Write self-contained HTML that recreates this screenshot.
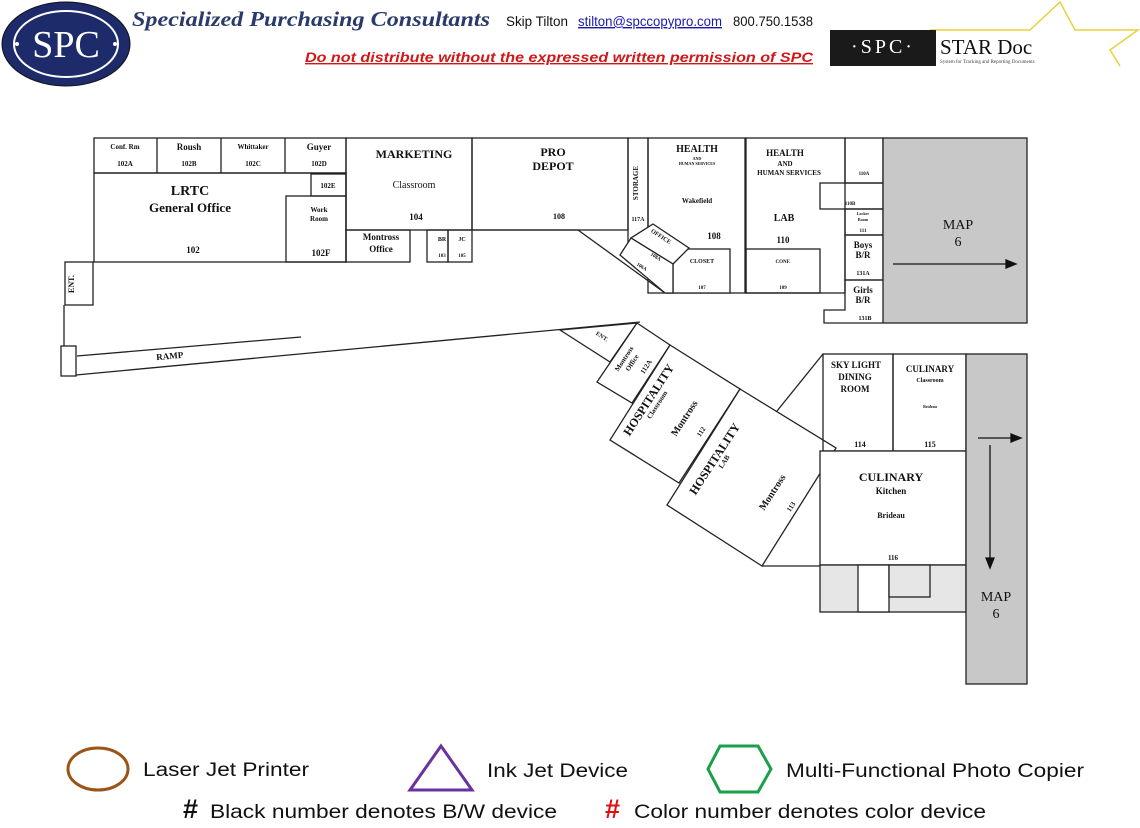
<!DOCTYPE html>
<html><head><meta charset="utf-8"><style>
html,body{margin:0;padding:0;background:#fff;}
svg{display:block;}
.s{font-family:"Liberation Serif",serif;font-weight:bold;fill:#111;}
.a{font-family:"Liberation Sans",sans-serif;fill:#111;}
</style></head><body>
<svg width="1140" height="828" viewBox="0 0 1140 828" xmlns="http://www.w3.org/2000/svg">
<!-- header -->
<ellipse cx="66" cy="44" rx="64" ry="42" fill="#1d2b6b" stroke="#111" stroke-width="1"/>
<ellipse cx="66" cy="44" rx="52" ry="33" fill="none" stroke="#fff" stroke-width="2"/>
<text x="66" y="57" text-anchor="middle" font-family="Liberation Serif,serif" font-size="38" fill="#fff">SPC</text>
<circle cx="17" cy="44" r="2" fill="#fff"/><circle cx="115" cy="44" r="2" fill="#fff"/>
<text x="132" y="26" font-family="Liberation Serif,serif" font-style="italic" font-weight="bold" font-size="21" fill="#2a3a6a" textLength="358" lengthAdjust="spacingAndGlyphs">Specialized Purchasing Consultants</text>
<text x="506" y="26" class="a" font-size="14" textLength="62" lengthAdjust="spacingAndGlyphs">Skip Tilton</text>
<text x="578" y="26" class="a" font-size="14" fill="#1a1aaa" style="fill:#1a1aaa" text-decoration="underline" textLength="144" lengthAdjust="spacingAndGlyphs">stilton@spccopypro.com</text>
<text x="733" y="26" class="a" font-size="14" textLength="80" lengthAdjust="spacingAndGlyphs">800.750.1538</text>
<text x="305" y="62" font-family="Liberation Sans,sans-serif" font-style="italic" font-weight="bold" font-size="14" fill="#d01818" text-decoration="underline" textLength="508" lengthAdjust="spacingAndGlyphs">Do not distribute without the expressed written permission of SPC</text>
<polyline points="930,30 1030,30 1060,2 1075,30 1138,30 1110,50 1120,66" fill="none" stroke="#e8d23a" stroke-width="1.5"/>
<rect x="830" y="30" width="106" height="36" fill="#1a1a1a"/>
<text x="883" y="53" text-anchor="middle" font-family="Liberation Serif,serif" font-size="20" fill="#fff" letter-spacing="3">·SPC·</text>
<text x="940" y="54" font-family="Liberation Serif,serif" font-size="21" fill="#111">STAR Doc</text>
<text x="940" y="63" font-family="Liberation Serif,serif" font-size="5" fill="#444">System for Tracking and Reporting Documents</text>

<g fill="none" stroke="#222" stroke-width="1.3">
<!-- top left block -->
<rect x="94" y="138" width="252" height="35"/>
<line x1="157" y1="138" x2="157" y2="173"/><line x1="221" y1="138" x2="221" y2="173"/><line x1="285" y1="138" x2="285" y2="173"/>
<rect x="94" y="173" width="252" height="89"/>
<rect x="311" y="174" width="35" height="22"/>
<rect x="286" y="196" width="60" height="66"/>
<rect x="346" y="138" width="126" height="92"/>
<rect x="472" y="138" width="156" height="92"/>
<rect x="346" y="230" width="64" height="32"/>
<rect x="427" y="230" width="21" height="32"/><rect x="448" y="230" width="24" height="32"/>
<rect x="65" y="262" width="28" height="43"/>
<line x1="64" y1="305" x2="64" y2="346"/>
<rect x="61" y="346" width="15" height="30"/>
<line x1="77" y1="356" x2="301" y2="337"/>
<line x1="76" y1="375" x2="640" y2="322"/>
<!-- pro depot diagonal -->
<line x1="472" y1="230" x2="578" y2="230"/><line x1="578" y1="230" x2="665" y2="293"/>
<line x1="665" y1="293" x2="673" y2="293"/>
<rect x="628" y="138" width="20" height="110"/>
<rect x="648" y="138" width="97" height="155"/>
<rect x="673" y="249" width="57" height="44" fill="#fff"/>
<polygon points="653,224 689,248 673,264 631,238" fill="#fff"/>
<polygon points="631,238 673,264 673,293 665,293 620,255" fill="#fff"/>
<rect x="746" y="138" width="99" height="155"/>
<rect x="746" y="249" width="74" height="44"/>
<rect x="845" y="138" width="38" height="45"/>
<rect x="820" y="183" width="63" height="26"/>
<rect x="845" y="209" width="38" height="26"/>
<rect x="845" y="235" width="38" height="45"/>
<polyline points="883,280 845,280 845,310 824,310 824,323 883,323"/>
<rect x="883" y="138" width="144" height="185" fill="#c8c8c8"/>
<!-- bottom right -->
<polygon points="560,330 637,323 610,362" fill="#fff"/>
<polygon points="637,323 670,345 632,403 597,382" fill="#fff"/>
<polygon points="670,345 740,389 679,483 610,440" fill="#fff"/>
<polygon points="740,389 836,448 762,566 667,505" fill="#fff"/>
<line x1="762" y1="566" x2="820" y2="566"/>
<line x1="777" y1="411" x2="823" y2="354"/>
<rect x="823" y="354" width="70" height="97"/>
<rect x="893" y="354" width="73" height="97"/>
<rect x="820" y="451" width="146" height="114" fill="#fff"/>
<rect x="820" y="565" width="146" height="47" fill="#e6e6e6"/>
<rect x="858" y="565" width="31" height="47" fill="#fff"/>
<rect x="889" y="565" width="41" height="32" fill="#e6e6e6"/>
<rect x="966" y="354" width="61" height="330" fill="#c8c8c8"/>
</g>
<!-- arrows -->
<g stroke="#111" stroke-width="1.3" fill="#111">
<line x1="893" y1="264" x2="1008" y2="264"/><polygon points="1016,264 1006,260 1006,268"/>
<line x1="978" y1="438" x2="1013" y2="438"/><polygon points="1021,438 1011,434 1011,442"/>
<line x1="990" y1="445" x2="990" y2="560"/><polygon points="990,568 986,558 994,558"/>
</g>
<!-- labels -->
<g class="s" text-anchor="middle">
<text x="125" y="149" font-size="7">Conf. Rm</text><text x="125" y="166" font-size="7">102A</text>
<text x="189" y="150" font-size="9">Roush</text><text x="189" y="166" font-size="7">102B</text>
<text x="253" y="149" font-size="7">Whittaker</text><text x="253" y="166" font-size="7">102C</text>
<text x="319" y="150" font-size="9">Guyer</text><text x="319" y="166" font-size="7">102D</text>
<text x="328" y="188" font-size="7">102E</text>
<text x="190" y="195" font-size="14">LRTC</text><text x="190" y="212" font-size="13">General Office</text>
<text x="193" y="253" font-size="9">102</text>
<text x="319" y="212" font-size="7">Work</text><text x="319" y="221" font-size="7">Room</text>
<text x="321" y="256" font-size="9">102F</text>
<text x="414" y="158" font-size="12">MARKETING</text>
<text x="414" y="188" font-size="10" style="font-weight:normal">Classroom</text>
<text x="416" y="220" font-size="9">104</text>
<text x="381" y="240" font-size="9">Montross</text><text x="381" y="252" font-size="9">Office</text>
<text x="442" y="241" font-size="6">BR</text><text x="442" y="257" font-size="5">103</text>
<text x="462" y="241" font-size="6">JC</text><text x="462" y="257" font-size="5">105</text>
<text x="553" y="156" font-size="12">PRO</text><text x="553" y="170" font-size="12">DEPOT</text>
<text x="559" y="219" font-size="8">108</text>
<text x="638" y="183" font-size="7" transform="rotate(-90 638 183)">STORAGE</text>
<text x="638" y="221" font-size="6">117A</text>
<text x="697" y="152" font-size="10">HEALTH</text><text x="697" y="160" font-size="4">AND</text><text x="697" y="165" font-size="4">HUMAN SERVICES</text>
<text x="697" y="203" font-size="7">Wakefield</text>
<text x="714" y="239" font-size="9">108</text>
<text x="660" y="238" font-size="6" transform="rotate(33 660 238)">OFFICE</text>
<text x="655" y="258" font-size="5" transform="rotate(33 655 258)">108A</text>
<text x="641" y="268" font-size="5" transform="rotate(33 641 268)">106A</text>
<text x="702" y="263" font-size="6">CLOSET</text><text x="702" y="289" font-size="5">107</text>
<text x="785" y="156" font-size="9">HEALTH</text><text x="785" y="166" font-size="7">AND</text><text x="789" y="175" font-size="7">HUMAN SERVICES</text>
<text x="784" y="221" font-size="10">LAB</text><text x="783" y="243" font-size="9">110</text>
<text x="783" y="263" font-size="5">CONF.</text><text x="783" y="289" font-size="5">109</text>
<text x="864" y="175" font-size="5">110A</text>
<text x="850" y="205" font-size="5">110B</text>
<text x="863" y="215" font-size="4">Locker</text><text x="863" y="221" font-size="4">Room</text><text x="863" y="232" font-size="5">111</text>
<text x="863" y="248" font-size="9">Boys</text><text x="863" y="258" font-size="9">B/R</text><text x="863" y="275" font-size="6">131A</text>
<text x="863" y="293" font-size="9">Girls</text><text x="863" y="303" font-size="9">B/R</text><text x="865" y="320" font-size="6">131B</text>
<text x="958" y="229" font-size="14" style="font-weight:normal">MAP</text><text x="958" y="246" font-size="14" style="font-weight:normal">6</text>
<text x="996" y="601" font-size="14" style="font-weight:normal">MAP</text><text x="996" y="618" font-size="14" style="font-weight:normal">6</text>
<text x="74" y="284" font-size="8" transform="rotate(-90 74 284)">ENT.</text>
<text x="170" y="359" font-size="9" transform="rotate(-5 170 359)">RAMP</text>
<text x="601" y="338" font-size="6" transform="rotate(33 601 338)">ENT.</text>
<text x="626" y="360" font-size="7" transform="rotate(-57 626 360)">Montross</text>
<text x="634" y="364" font-size="7" transform="rotate(-57 634 364)">Office</text>
<text x="648" y="368" font-size="7" transform="rotate(-57 648 368)">112A</text>
<text x="652" y="402" font-size="12" transform="rotate(-57 652 402)">HOSPITALITY</text>
<text x="659" y="406" font-size="7" transform="rotate(-57 659 406)">Classroom</text>
<text x="687" y="420" font-size="10" transform="rotate(-57 687 420)">Montross</text>
<text x="703" y="433" font-size="7" transform="rotate(-57 703 433)">112</text>
<text x="718" y="461" font-size="12" transform="rotate(-57 718 461)">HOSPITALITY</text>
<text x="726" y="463" font-size="7" transform="rotate(-57 726 463)">LAB</text>
<text x="775" y="494" font-size="10" transform="rotate(-57 775 494)">Montross</text>
<text x="793" y="508" font-size="7" transform="rotate(-57 793 508)">113</text>
<text x="856" y="368" font-size="9">SKY LIGHT</text><text x="855" y="380" font-size="9">DINING</text><text x="855" y="392" font-size="9">ROOM</text>
<text x="860" y="447" font-size="8">114</text>
<text x="930" y="372" font-size="9">CULINARY</text><text x="930" y="382" font-size="6">Classroom</text>
<text x="930" y="408" font-size="4">Brideau</text><text x="930" y="447" font-size="8">115</text>
<text x="891" y="481" font-size="12">CULINARY</text><text x="891" y="494" font-size="9">Kitchen</text>
<text x="891" y="518" font-size="8">Brideau</text><text x="893" y="560" font-size="7">116</text>
</g>
<!-- legend -->
<ellipse cx="98" cy="769" rx="30" ry="21" fill="none" stroke="#9a5418" stroke-width="3"/>
<text x="143" y="776" class="a" font-size="19" textLength="166" lengthAdjust="spacingAndGlyphs">Laser Jet Printer</text>
<polygon points="441,746 472,790 410,790" fill="none" stroke="#6a32a0" stroke-width="3"/>
<text x="487" y="777" class="a" font-size="19" textLength="141" lengthAdjust="spacingAndGlyphs">Ink Jet Device</text>
<polygon points="720,746 758,746 771,769 758,792 720,792 708,769" fill="none" stroke="#1aa04a" stroke-width="3"/>
<text x="786" y="777" class="a" font-size="19" textLength="298" lengthAdjust="spacingAndGlyphs">Multi-Functional Photo Copier</text>
<text x="183" y="818" font-family="Liberation Sans,sans-serif" font-weight="bold" font-size="27" fill="#111">#</text>
<text x="210" y="818" class="a" font-size="19" textLength="347" lengthAdjust="spacingAndGlyphs">Black number denotes B/W device</text>
<text x="605" y="818" font-family="Liberation Sans,sans-serif" font-weight="bold" font-size="27" fill="#e01010">#</text>
<text x="634" y="818" class="a" font-size="19" textLength="352" lengthAdjust="spacingAndGlyphs">Color number denotes color device</text>
</svg>
</body></html>
